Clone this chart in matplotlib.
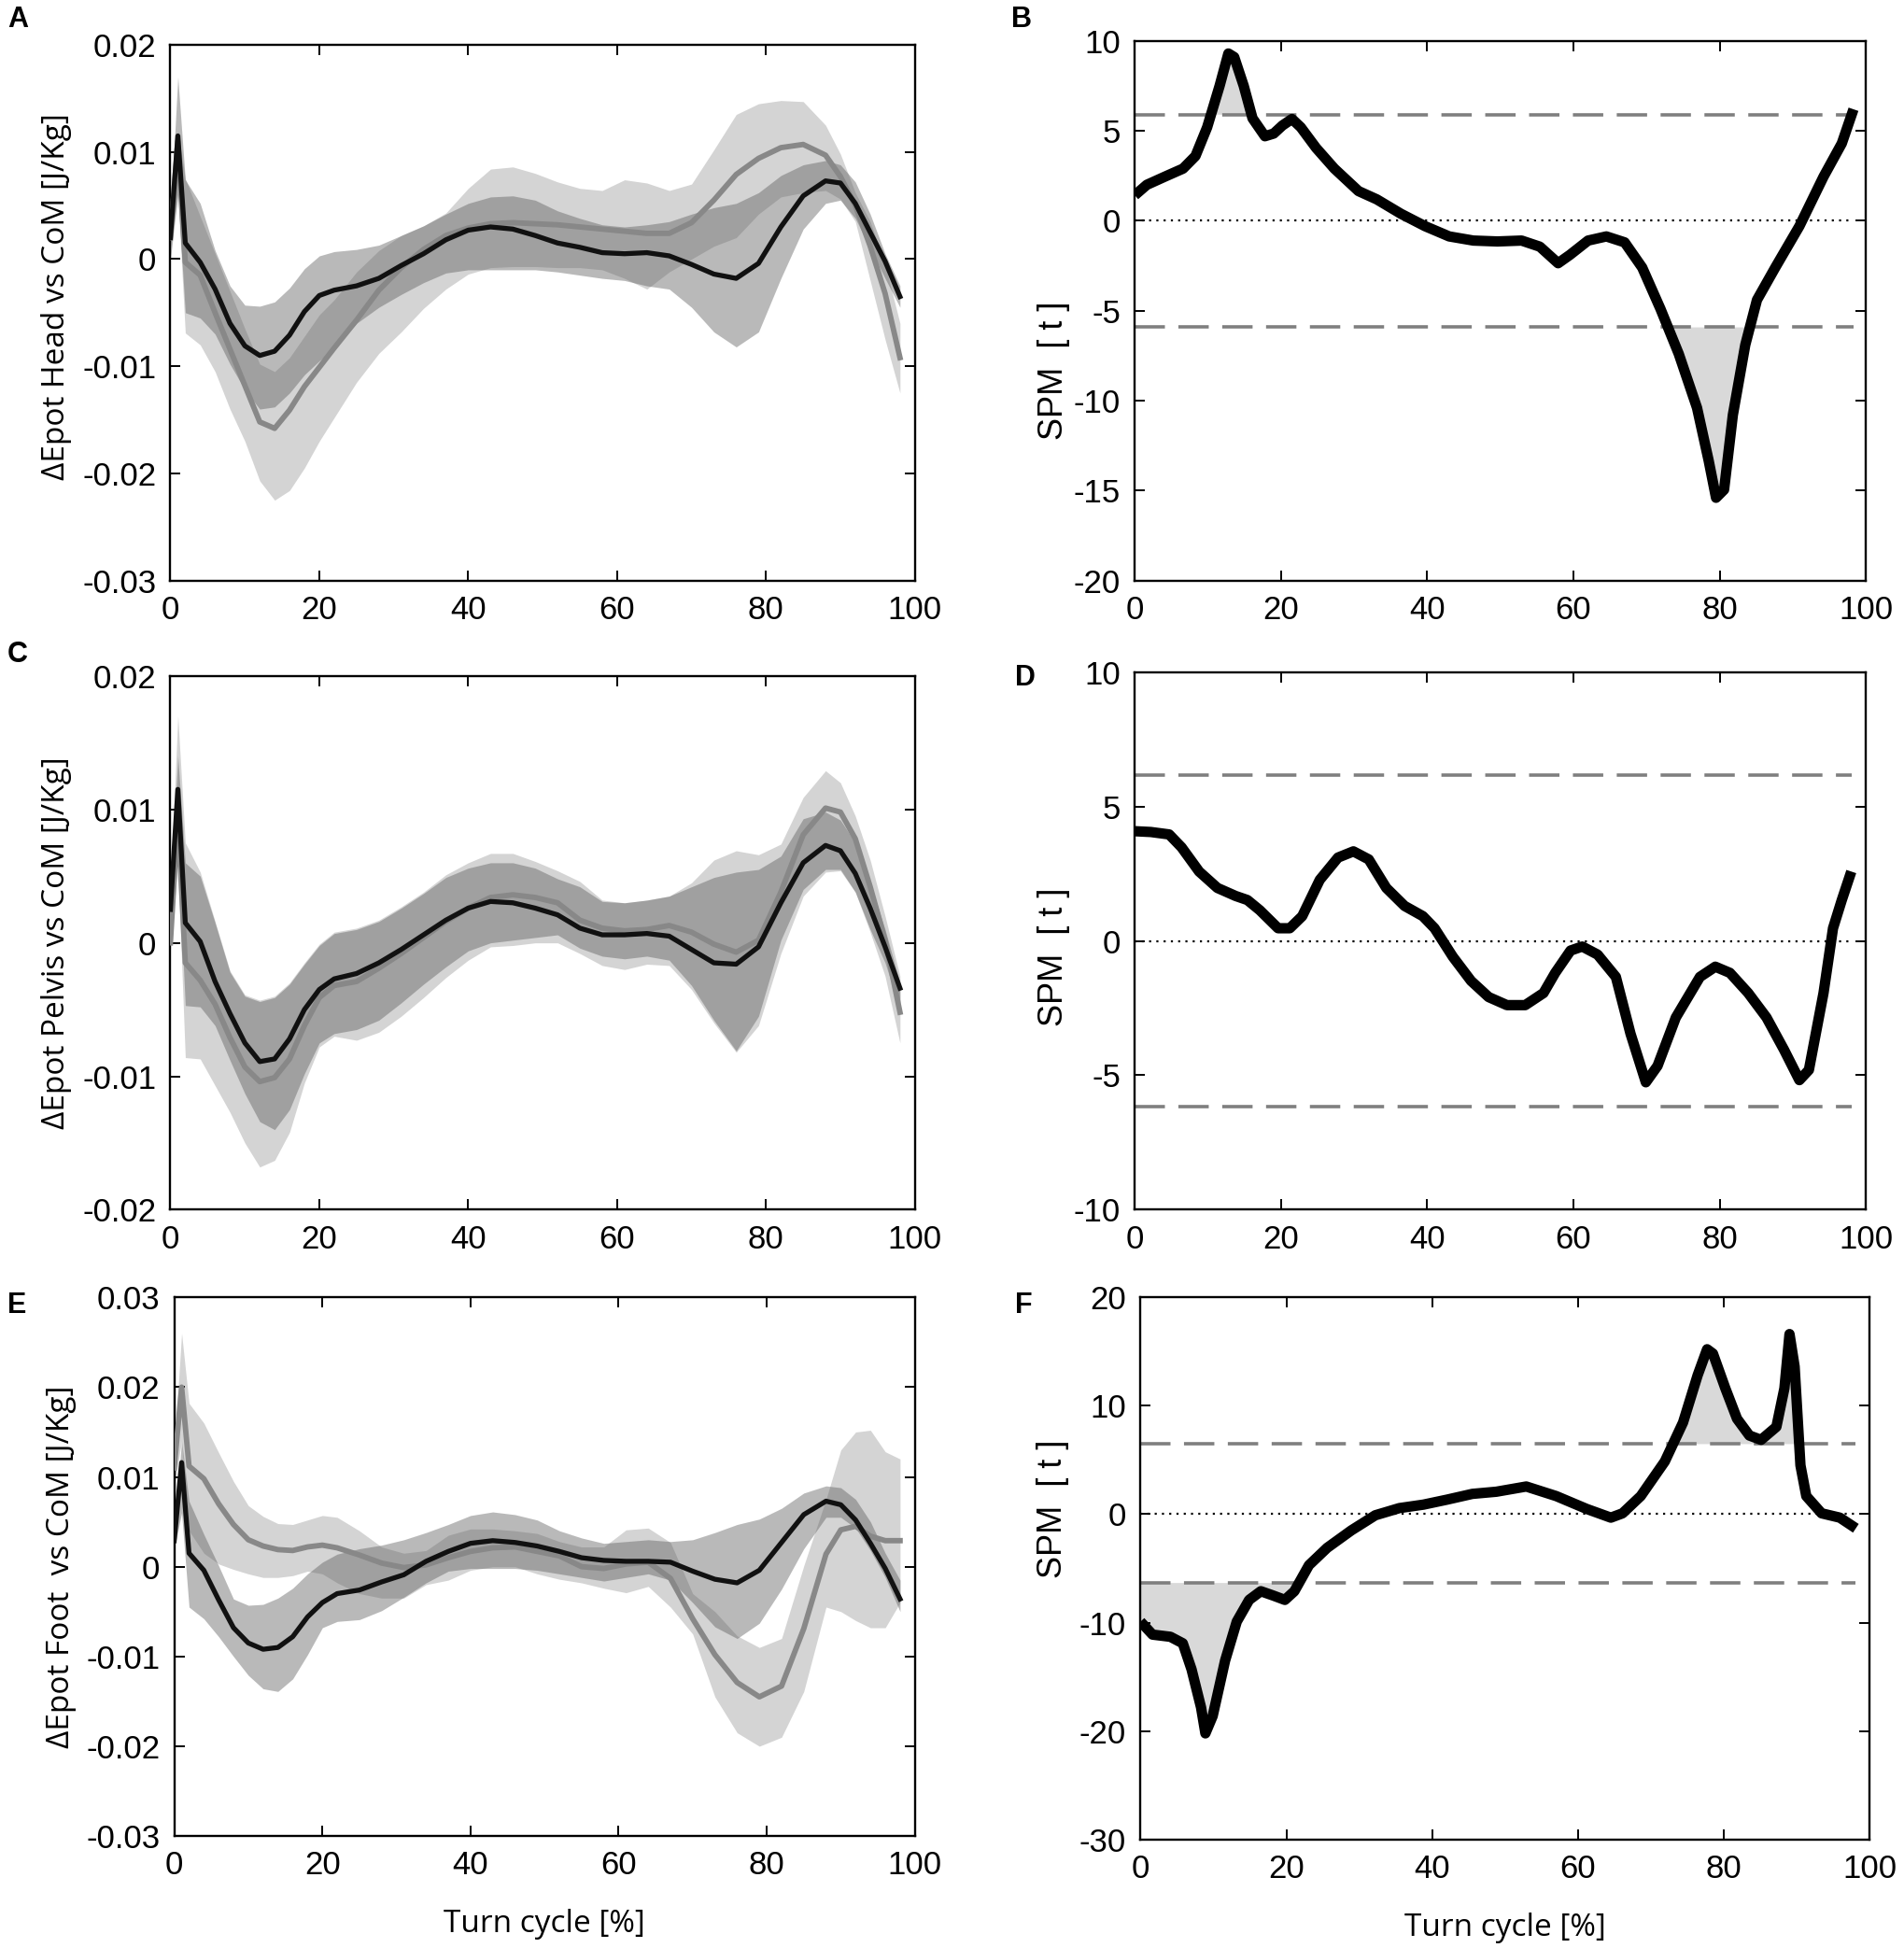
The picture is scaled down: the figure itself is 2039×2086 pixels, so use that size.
import matplotlib
matplotlib.use("Agg")
import matplotlib.pyplot as plt

plt.rcParams["axes.unicode_minus"] = False

# common x grid of the mean/SD curves (% of turn cycle)
X_PCT = [0, 1, 2, 4, 6, 8, 10, 12, 14, 16, 18, 20, 22, 25, 28, 31, 34, 37, 40, 43,
         46, 49, 52, 55, 58, 61, 64, 67, 70, 73, 76, 79, 82, 85, 88, 90, 92, 94, 96, 98]

# panel A - head vs CoM (group 1 = black, group 2 = grey)
HEAD_G1_MEAN = [0.002, 0.0115, 0.0015, -0.0003, -0.0028, -0.006, -0.0081, -0.009, -0.0086, -0.0071,
                -0.0049, -0.0034, -0.0029, -0.0025, -0.0018, -0.0006, 0.0005, 0.0018, 0.0027, 0.003,
                0.0028, 0.0022, 0.0015, 0.0011, 0.0006, 0.0005, 0.0006, 0.0003, -0.0005, -0.0014,
                -0.0018, -0.0004, 0.003, 0.0059, 0.0073, 0.0071, 0.0052, 0.0025, -0.0002, -0.0035]
HEAD_G1_HI = [0.004, 0.017, 0.0074, 0.0052, 0.0008, -0.0025, -0.0043, -0.0044, -0.004, -0.0027,
              -0.0009, 0.0003, 0.0007, 0.0009, 0.0013, 0.0022, 0.0031, 0.0042, 0.0052, 0.0058,
              0.0059, 0.0055, 0.0045, 0.0038, 0.0032, 0.003, 0.0032, 0.0035, 0.0042, 0.0048,
              0.0052, 0.0062, 0.0078, 0.0088, 0.0092, 0.0088, 0.0072, 0.0042, 0.0005, -0.0025]
HEAD_G1_LO = [0.0, 0.006, -0.005, -0.0055, -0.007, -0.0098, -0.0122, -0.014, -0.0138, -0.0125,
              -0.0108, -0.0095, -0.0083, -0.006, -0.0045, -0.0033, -0.0022, -0.0013, -0.001, -0.001,
              -0.001, -0.001, -0.0012, -0.0015, -0.0018, -0.002, -0.0025, -0.0028, -0.0045, -0.0068,
              -0.0082, -0.0068, -0.0018, 0.0028, 0.0052, 0.0055, 0.0038, 0.001, -0.0018, -0.0045]
HEAD_G2_MEAN = [0.002, 0.011, -0.0003, -0.0015, -0.005, -0.0084, -0.0118, -0.0152, -0.0158, -0.0141,
                -0.0119, -0.0101, -0.0083, -0.0057, -0.0029, -0.0008, 0.0009, 0.0022, 0.0029, 0.0033,
                0.0034, 0.0033, 0.0032, 0.003, 0.0028, 0.0026, 0.0024, 0.0024, 0.0034, 0.0055,
                0.0079, 0.0094, 0.0104, 0.0107, 0.0097, 0.0077, 0.005, 0.0012, -0.0032, -0.0092]
HEAD_G2_HI = [0.003, 0.012, 0.0075, 0.004, 0.0005, -0.003, -0.0065, -0.0098, -0.0105, -0.0092,
              -0.0072, -0.0052, -0.0038, -0.0012, 0.0008, 0.0022, 0.0031, 0.0043, 0.0066, 0.0084,
              0.0086, 0.008, 0.0072, 0.0066, 0.0064, 0.0074, 0.0071, 0.0064, 0.007, 0.0102,
              0.0135, 0.0145, 0.0148, 0.0147, 0.0125, 0.0098, 0.0062, 0.0035, -0.0005, -0.006]
HEAD_G2_LO = [0.001, 0.006, -0.0069, -0.008, -0.0105, -0.014, -0.017, -0.0207, -0.0225, -0.0216,
              -0.0195, -0.017, -0.0148, -0.0115, -0.0088, -0.0068, -0.0046, -0.0028, -0.0014, -0.0008,
              -0.0007, -0.0007, -0.0008, -0.0008, -0.001, -0.0018, -0.0028, -0.0012, 0.0, 0.0012,
              0.002, 0.0042, 0.0058, 0.0062, 0.0064, 0.0056, 0.0035, -0.002, -0.0075, -0.0125]

# panel C - pelvis vs CoM
PELVIS_G1_MEAN = [0.0025, 0.0115, 0.0015, 0.0001, -0.0029, -0.0053, -0.0075, -0.0089, -0.0087, -0.0072,
                  -0.005, -0.0035, -0.0027, -0.0023, -0.0015, -0.0005, 0.0006, 0.0017, 0.0026, 0.0031,
                  0.003, 0.0026, 0.0021, 0.0011, 0.0006, 0.0006, 0.0007, 0.0005, -0.0005, -0.0015,
                  -0.0016, -0.0003, 0.003, 0.006, 0.0073, 0.0069, 0.0052, 0.0026, -0.0003, -0.0034]
PELVIS_G1_HI = [0.003, 0.014, 0.006, 0.005, 0.0015, -0.0022, -0.004, -0.0044, -0.0041, -0.0031,
                -0.0016, -0.0002, 0.0007, 0.001, 0.0016, 0.0026, 0.0037, 0.0049, 0.0056, 0.006,
                0.006, 0.0056, 0.0048, 0.0042, 0.0031, 0.003, 0.0032, 0.0035, 0.0042, 0.0049,
                0.0053, 0.0055, 0.0065, 0.0093, 0.0098, 0.0092, 0.0075, 0.0045, 0.001, -0.003]
PELVIS_G1_LO = [0.0, 0.007, -0.0047, -0.0048, -0.0062, -0.0088, -0.0113, -0.0134, -0.014, -0.0125,
                -0.0098, -0.0075, -0.0068, -0.0065, -0.0058, -0.0045, -0.0031, -0.0018, -0.0006, 0.0,
                0.0002, 0.0004, 0.0006, -0.0004, -0.001, -0.0012, -0.001, -0.0013, -0.0032, -0.0058,
                -0.0081, -0.0055, 0.0002, 0.004, 0.0055, 0.0055, 0.0038, 0.001, -0.0015, -0.005]
PELVIS_G2_MEAN = [0.0, 0.0095, -0.0015, -0.0028, -0.0046, -0.0071, -0.0093, -0.0104, -0.0101, -0.0087,
                  -0.0062, -0.0041, -0.0032, -0.0029, -0.0019, -0.0008, 0.0004, 0.0016, 0.0026, 0.0034,
                  0.0036, 0.0034, 0.003, 0.0017, 0.0011, 0.0009, 0.001, 0.0013, 0.0008, -0.0001,
                  -0.0007, 0.0002, 0.0038, 0.0081, 0.0101, 0.0098, 0.0078, 0.0042, 0.0002, -0.0052]
PELVIS_G2_HI = [0.004, 0.017, 0.0075, 0.0053, 0.0016, -0.0021, -0.0039, -0.0043, -0.004, -0.003,
                -0.0015, -0.0001, 0.0008, 0.0011, 0.0017, 0.0027, 0.0038, 0.0051, 0.006, 0.0067,
                0.0067, 0.0061, 0.0054, 0.0046, 0.0032, 0.003, 0.0032, 0.0035, 0.0045, 0.0062,
                0.0069, 0.0066, 0.0074, 0.0109, 0.0129, 0.012, 0.0095, 0.0062, 0.002, -0.0025]
PELVIS_G2_LO = [-0.0005, 0.006, -0.0086, -0.0087, -0.0107, -0.0127, -0.015, -0.0168, -0.0163, -0.0142,
                -0.0105, -0.0078, -0.007, -0.0073, -0.0067, -0.0055, -0.0041, -0.0026, -0.0013, -0.0003,
                -0.0002, 0.0, 0.0, -0.0008, -0.0017, -0.002, -0.0016, -0.0017, -0.0035, -0.006,
                -0.0082, -0.0062, -0.0008, 0.0035, 0.0053, 0.0054, 0.0038, 0.0008, -0.0025, -0.0075]

# panel E - foot vs CoM
FOOT_G1_MEAN = [0.0029, 0.0116, 0.0015, -0.0004, -0.0037, -0.0068, -0.0085, -0.0092, -0.009, -0.0078,
                -0.0056, -0.004, -0.003, -0.0026, -0.0017, -0.0009, 0.0006, 0.0017, 0.0026, 0.0029,
                0.0027, 0.0023, 0.0017, 0.001, 0.0007, 0.0006, 0.0006, 0.0005, -0.0005, -0.0014,
                -0.0018, -0.0004, 0.0027, 0.0058, 0.0073, 0.0069, 0.0052, 0.0026, -0.0002, -0.0036]
FOOT_G1_HI = [0.004, 0.014, 0.0073, 0.0036, 0.0001, -0.0036, -0.0043, -0.0042, -0.0035, -0.0024,
              -0.0008, 0.0005, 0.0014, 0.002, 0.0024, 0.003, 0.0038, 0.0047, 0.0057, 0.0061,
              0.0058, 0.0052, 0.004, 0.0032, 0.0026, 0.0028, 0.003, 0.0028, 0.003, 0.0038,
              0.0047, 0.0053, 0.0065, 0.0082, 0.009, 0.0088, 0.0075, 0.005, 0.0015, -0.0015]
FOOT_G1_LO = [0.002, 0.006, -0.0045, -0.0058, -0.0078, -0.01, -0.0121, -0.0136, -0.0139, -0.0125,
              -0.0098, -0.0068, -0.0061, -0.0059, -0.0049, -0.0034, -0.0018, -0.0005, -0.0002, -0.0002,
              -0.0002, -0.0004, -0.0008, -0.0012, -0.0016, -0.0012, -0.0008, -0.0015, -0.004, -0.0067,
              -0.008, -0.0063, -0.0025, 0.002, 0.0055, 0.0055, 0.0043, 0.0018, -0.0012, -0.005]
FOOT_G2_MEAN = [0.011, 0.02, 0.0112, 0.0098, 0.007, 0.0047, 0.003, 0.0023, 0.0019, 0.0018,
                0.0022, 0.0024, 0.0021, 0.0013, 0.0004, -0.0001, 0.0002, 0.001, 0.0017, 0.0021,
                0.0022, 0.0017, 0.0012, 0.0, -0.0002, 0.0003, 0.0005, -0.0013, -0.0058, -0.0098,
                -0.0129, -0.0145, -0.0133, -0.0069, 0.0014, 0.0041, 0.0045, 0.0034, 0.0029, 0.0029]
FOOT_G2_HI = [0.013, 0.026, 0.0182, 0.016, 0.0127, 0.0095, 0.0068, 0.0056, 0.0048, 0.0047,
              0.0052, 0.0057, 0.0055, 0.004, 0.0022, 0.0015, 0.0018, 0.0035, 0.0042, 0.0042,
              0.004, 0.0037, 0.0028, 0.0022, 0.0022, 0.0041, 0.0043, 0.0027, -0.003, -0.005,
              -0.0077, -0.009, -0.008, 0.0001, 0.0075, 0.013, 0.015, 0.0152, 0.0128, 0.012]
FOOT_G2_LO = [0.009, 0.014, 0.004, 0.0015, 0.0003, -0.0003, -0.0008, -0.0012, -0.0012, -0.001,
              -0.0005, -0.0008, -0.0018, -0.003, -0.0035, -0.0035, -0.002, -0.0015, -0.0004, 0.0,
              0.0, -0.0008, -0.0014, -0.0018, -0.0024, -0.0029, -0.0022, -0.0045, -0.0075, -0.0145,
              -0.0185, -0.02, -0.019, -0.0139, -0.0045, -0.005, -0.006, -0.0068, -0.0068, -0.004]

# SPM{t} curves and critical thresholds
SPM_HEAD_X = [0, 1.65, 4.1, 6.6, 8.3, 9.9, 11.6, 12.8, 13.6, 14.9, 16.1, 17.8, 19, 20.2, 21.5, 22.7,
              24.8, 27.3, 30.6, 33.1, 36.4, 39.7, 43, 46.3, 49.6, 52.9, 55.4, 57.9, 59.5, 62, 64.5,
              67, 69.4, 71.9, 74.4, 76.9, 78.5, 79.5, 80.6, 81.8, 83.5, 85.1, 87.6, 90.9, 94.2,
              96.7, 98.3]
SPM_HEAD_T = [1.42, 2.0, 2.45, 2.9, 3.6, 5.2, 7.5, 9.3, 9.1, 7.5, 5.7, 4.7, 4.85, 5.3, 5.66, 5.2,
              4.05, 2.9, 1.65, 1.19, 0.39, -0.3, -0.87, -1.1, -1.15, -1.1, -1.44, -2.36, -1.9, -1.1,
              -0.87, -1.2, -2.6, -4.9, -7.4, -10.4, -13.35, -15.4, -14.95, -10.8, -6.9, -4.4, -2.6,
              -0.3, 2.45, 4.3, 6.2]
SPM_HEAD_THR = (5.9, -5.9)

SPM_PELVIS_X = [0, 2.2, 4.7, 6.4, 8.8, 11.3, 13.8, 15.4, 17.1, 19.6, 21.2, 22.9, 25.3, 27.8, 29.9,
                32, 34.4, 36.9, 39.4, 41, 43.5, 46, 48.4, 50.9, 53.4, 55.9, 57.5, 59.6, 61.2, 63.3,
                65.8, 67.8, 69.9, 71.5, 74, 77.3, 79.4, 81.4, 83.9, 86.4, 88.8, 90.9, 92.2, 94.2,
                95.5, 96.7, 98]
SPM_PELVIS_T = [4.08, 4.05, 3.96, 3.48, 2.58, 1.97, 1.67, 1.52, 1.14, 0.47, 0.47, 0.92, 2.27, 3.1,
                3.33, 3.03, 1.97, 1.3, 0.92, 0.47, -0.59, -1.49, -2.09, -2.39, -2.39, -1.94, -1.19,
                -0.36, -0.21, -0.51, -1.34, -3.45, -5.26, -4.65, -2.85, -1.34, -0.96, -1.19, -1.94,
                -2.85, -4.05, -5.18, -4.8, -1.94, 0.47, 1.52, 2.58]
SPM_PELVIS_THR = (6.17, -6.17)

SPM_FOOT_X = [0, 1.65, 4.1, 5.8, 7, 8.3, 8.9, 9.9, 11.6, 13.2, 14.9, 16.5, 18.2, 19.8, 21.1, 23.1,
              25.6, 28.9, 32.2, 35.5, 38.8, 42.1, 45.5, 48.8, 52.9, 57, 61.2, 64.5, 66.1, 68.6,
              71.9, 74.4, 76.4, 77.7, 78.5, 80.2, 81.8, 83.5, 85.1, 87.2, 88.3, 89, 89.7, 90.5,
              91.3, 93.4, 95.9, 98.1]
SPM_FOOT_T = [-9.9, -11.1, -11.3, -11.9, -14.3, -17.8, -20.2, -18.6, -13.5, -9.9, -7.9, -7.1, -7.5,
              -7.9, -7.1, -4.7, -3.1, -1.5, -0.1, 0.56, 0.88, 1.35, 1.87, 2.07, 2.55, 1.67, 0.48,
              -0.32, 0.08, 1.67, 4.86, 8.45, 12.8, 15.2, 14.8, 11.6, 8.8, 7.25, 6.85, 8.05, 11.6,
              16.6, 13.6, 4.5, 1.67, 0.08, -0.32, -1.3]
SPM_FOOT_THR = (6.5, -6.3)

X_TICKS = [0, 20, 40, 60, 80, 100]

TICK_FONT = ["Liberation Sans Narrow", "Liberation Sans", "DejaVu Sans"]
LABEL_FONT = ["Open Sans", "DejaVu Sans"]
SPM_FONT = ["Liberation Sans", "DejaVu Sans"]

GREY_BAND = "#d4d4d4"
BLACK_BAND = "#5a5a5a"
GREY_LINE = "#888888"
SPM_FILL = "#d9d9d9"


def style_axes(ax, yticks, ylabels):
    ax.set_xlim(0, 100)
    ax.set_ylim(yticks[0], yticks[-1])
    ax.set_xticks(X_TICKS)
    ax.set_xticklabels([str(t) for t in X_TICKS], family=TICK_FONT, fontsize=25)
    ax.set_yticks(yticks)
    ax.set_yticklabels(ylabels, family=TICK_FONT, fontsize=25)
    ax.tick_params(direction="in", length=8, width=1.4, top=True, right=True, pad=11)
    for spine in ax.spines.values():
        spine.set_linewidth(1.7)
        spine.set_color("black")


def plot_energy_panel(ax, g1, g2, yticks, ylabels, ylabel, label_y):
    g1_mean, g1_lo, g1_hi = g1
    g2_mean, g2_lo, g2_hi = g2

    ax.fill_between(X_PCT, g2_lo, g2_hi, color=GREY_BAND, linewidth=0, zorder=1)
    ax.fill_between(X_PCT, g1_lo, g1_hi, color=BLACK_BAND, alpha=0.42, linewidth=0, zorder=2)
    ax.plot(X_PCT, g2_mean, color=GREY_LINE, lw=4.2, solid_joinstyle="round", zorder=3)
    ax.plot(X_PCT, g1_mean, color="#111111", lw=3.8, solid_joinstyle="round", zorder=4)

    style_axes(ax, yticks, ylabels)
    ax.set_ylabel(ylabel, family=LABEL_FONT, fontsize=24)
    ax.yaxis.set_label_coords(-0.132, label_y)


def plot_spm_panel(ax, x, t, thr, yticks, label_y, label_x=-0.088):
    upper, lower = thr
    ax.fill_between(x, upper, t, where=[v > upper for v in t], interpolate=True,
                    color=SPM_FILL, linewidth=0, zorder=1)
    ax.fill_between(x, lower, t, where=[v < lower for v in t], interpolate=True,
                    color=SPM_FILL, linewidth=0, zorder=1)
    ax.plot([x[0], x[-1]], [upper, upper], color="#7f7f7f", lw=2.6, dashes=(9, 4), zorder=2)
    ax.plot([x[0], x[-1]], [lower, lower], color="#7f7f7f", lw=2.6, dashes=(9, 4), zorder=2)
    ax.plot([x[0], x[-1]], [0, 0], color="black", lw=1.6, linestyle=(0, (1, 2.5)), zorder=2)
    ax.plot(x, t, color="black", lw=8, solid_joinstyle="round", solid_capstyle="butt", zorder=3)

    style_axes(ax, yticks, [str(v) for v in yticks])
    ax.set_ylabel("SPM  [ t ]", family=SPM_FONT, fontsize=26)
    ax.yaxis.set_label_coords(label_x, label_y)


fig = plt.figure(figsize=(20.39, 20.86), dpi=100)

ax_a = fig.add_axes([0.0895, 0.702, 0.391, 0.275])
ax_b = fig.add_axes([0.596, 0.702, 0.384, 0.277])
ax_c = fig.add_axes([0.0895, 0.379, 0.391, 0.274])
ax_d = fig.add_axes([0.596, 0.379, 0.384, 0.276])
ax_e = fig.add_axes([0.0915, 0.0575, 0.389, 0.2765])
ax_f = fig.add_axes([0.599, 0.0556, 0.383, 0.2785])

plot_energy_panel(
    ax_a,
    (HEAD_G1_MEAN, HEAD_G1_LO, HEAD_G1_HI),
    (HEAD_G2_MEAN, HEAD_G2_LO, HEAD_G2_HI),
    [-0.03, -0.02, -0.01, 0, 0.01, 0.02],
    ["-0.03", "-0.02", "-0.01", "0", "0.01", "0.02"],
    "ΔEpot Head vs CoM [J/Kg]",
    0.53,
)
plot_energy_panel(
    ax_c,
    (PELVIS_G1_MEAN, PELVIS_G1_LO, PELVIS_G1_HI),
    (PELVIS_G2_MEAN, PELVIS_G2_LO, PELVIS_G2_HI),
    [-0.02, -0.01, 0, 0.01, 0.02],
    ["-0.02", "-0.01", "0", "0.01", "0.02"],
    "ΔEpot Pelvis vs CoM [J/Kg]",
    0.5,
)
plot_energy_panel(
    ax_e,
    (FOOT_G1_MEAN, FOOT_G1_LO, FOOT_G1_HI),
    (FOOT_G2_MEAN, FOOT_G2_LO, FOOT_G2_HI),
    [-0.03, -0.02, -0.01, 0, 0.01, 0.02, 0.03],
    ["-0.03", "-0.02", "-0.01", "0", "0.01", "0.02", "0.03"],
    "ΔEpot Foot  vs CoM [J/Kg]",
    0.5,
)

plot_spm_panel(ax_b, SPM_HEAD_X, SPM_HEAD_T, SPM_HEAD_THR, [-20, -15, -10, -5, 0, 5, 10], 0.39)
plot_spm_panel(ax_d, SPM_PELVIS_X, SPM_PELVIS_T, SPM_PELVIS_THR, [-10, -5, 0, 5, 10], 0.47)
plot_spm_panel(ax_f, SPM_FOOT_X, SPM_FOOT_T, SPM_FOOT_THR, [-30, -20, -10, 0, 10, 20], 0.61,
               label_x=-0.098)

for ax in (ax_e, ax_f):
    ax.set_xlabel("Turn cycle [%]", family=LABEL_FONT, fontsize=24)
    ax.xaxis.set_label_coords(0.5, -0.135)

panel_letters = {"A": (0.004, 0.99), "B": (0.531, 0.99), "C": (0.004, 0.664),
                 "D": (0.533, 0.652), "E": (0.004, 0.330), "F": (0.533, 0.330)}
for letter, (px, py) in panel_letters.items():
    fig.text(px, py, letter, family=TICK_FONT, fontsize=22, fontweight="bold",
             ha="left", va="center")

fig.savefig("out.png", dpi=100)
plt.close(fig)
